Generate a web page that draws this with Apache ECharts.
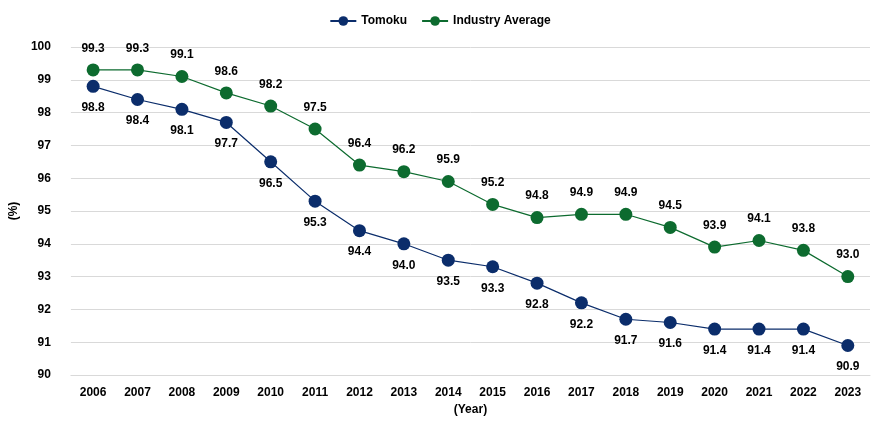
<!DOCTYPE html>
<html><head><meta charset="utf-8">
<script src="https://cdn.jsdelivr.net/npm/echarts@6/dist/echarts.min.js"></script>
<style>html,body{margin:0;padding:0;background:#fff}#c{width:880px;height:424px}</style>
</head><body><div id="c"></div>
<script>
const years = ['2006','2007','2008','2009','2010','2011','2012','2013','2014','2015','2016','2017','2018','2019','2020','2021','2022','2023'];
const tomoku = [98.8,98.4,98.1,97.7,96.5,95.3,94.4,94.0,93.5,93.3,92.8,92.2,91.7,91.6,91.4,91.4,91.4,90.9];
const industry = [99.3,99.3,99.1,98.6,98.2,97.5,96.4,96.2,95.9,95.2,94.8,94.9,94.9,94.5,93.9,94.1,93.8,93.0];
const font = 'Liberation Sans, Arial, sans-serif';
const chart = echarts.init(document.getElementById('c'));
const lbl = pos => ({show:true,position:pos,distance:9,color:'#000',fontWeight:'bold',fontSize:12,fontFamily:font,formatter:p=>p.value.toFixed(1)});
chart.setOption({
  animation:false,
  legend:{top:10,left:'center',itemWidth:26,itemHeight:12,itemGap:14,textStyle:{fontFamily:font,fontWeight:'bold',fontSize:12,color:'#000'}},
  grid:{left:66,right:10,top:47,bottom:49},
  xAxis:{type:'category',data:years,name:'(Year)',nameLocation:'middle',nameGap:26,
    nameTextStyle:{fontFamily:font,fontWeight:'bold',fontSize:12,color:'#000'},
    axisTick:{show:false},axisLine:{lineStyle:{color:'#d9d9d9'}},
    axisLabel:{fontFamily:font,fontWeight:'bold',fontSize:12,color:'#000',margin:12}},
  yAxis:{type:'value',min:90,max:100,interval:1,name:'(%)',nameLocation:'middle',nameGap:40,
    nameTextStyle:{fontFamily:font,fontWeight:'bold',fontSize:12,color:'#000'},
    axisLine:{show:false},axisTick:{show:false},
    splitLine:{lineStyle:{color:'#d9d9d9'}},
    axisLabel:{fontFamily:font,fontWeight:'bold',fontSize:12,color:'#000',margin:20}},
  series:[
    {name:'Tomoku',type:'line',data:tomoku,symbol:'circle',symbolSize:13,
     itemStyle:{color:'#0b2d6b'},lineStyle:{color:'#0b2d6b',width:1.2},label:lbl('bottom')},
    {name:'Industry Average',type:'line',data:industry,symbol:'circle',symbolSize:13,
     itemStyle:{color:'#0d6b2f'},lineStyle:{color:'#0d6b2f',width:1.2},label:lbl('top')}
  ]
});
</script></body></html>
